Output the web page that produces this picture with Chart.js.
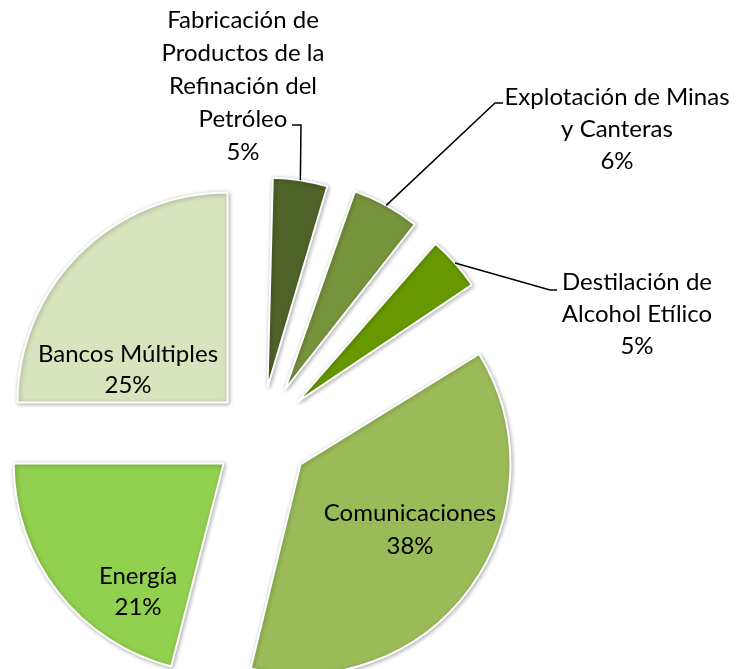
<!DOCTYPE html>
<html>
<head>
<meta charset="utf-8">
<script src="https://cdn.jsdelivr.net/npm/chart.js@4.4.1/dist/chart.umd.min.js"></script>
<style>
  html, body { margin: 0; padding: 0; background: #fff; }
  #wrap { width: 739px; height: 669px; }
</style>
</head>
<body>
<div id="wrap"><canvas id="pieChart"></canvas></div>
<script>
var categories = ['Fabricación de Productos de la Refinación del Petróleo', 'Explotación de Minas y Canteras',
    'Destilación de Alcohol Etílico', 'Comunicaciones', 'Energía', 'Bancos Múltiples'];
var shares = [5, 6, 5, 38, 21, 25];
var labelLines = [
    ['Fabricación de', 'Productos de la', 'Refinación del', 'Petróleo'],
    ['Explotación de Minas', 'y Canteras'],
    ['Destilación de', 'Alcohol Etílico'],
    ['Comunicaciones'],
    ['Energía'],
    ['Bancos Múltiples']
];
var sliceColors = ['#4F6228', '#77933C', '#669900', '#9BBB59', '#92D050', '#D7E4BD'];

var RADIUS = 210;
// how far each slice is pulled out, in px (Chart.js moves a slice by offset / 4)
var sliceExplode = [48, 52, 50, 50, 46, 46];

// where each label sits (centre x, first line y, line height) and leader ticks
var labelLayout = [
    { x: 243, y: 20, lh: 33, tick: [292, 125, 301, 125] },
    { x: 617, y: 97, lh: 32, tick: [503, 103, 495, 103] },
    { x: 637, y: 282, lh: 32, tick: [557, 290, 550, 290] },
    { x: 410, y: 513, lh: 33 },
    { x: 138, y: 576, lh: 31 },
    { x: 128, y: 354, lh: 31 }
];

// keep every slice the same radius (ArcElement grows narrow slices when offset)
var evenRadius = {
    id: 'evenRadius',
    afterDatasetUpdate: function (chart, args) {
        args.meta.data.forEach(function (arc) {
            var shift = (arc.options.offset || 0) / 4;
            var fix = 1 - Math.sin(Math.min(Math.PI, arc.circumference));
            arc.outerRadius = RADIUS - shift * fix;
        });
    }
};

var softShadow = {
    id: 'softShadow',
    beforeDatasetsDraw: function (chart) {
        var ctx = chart.ctx;
        ctx.save();
        ctx.shadowColor = 'rgba(0,0,0,0.30)';
        ctx.shadowBlur = 4;
        ctx.shadowOffsetX = 1;
        ctx.shadowOffsetY = 1;
    },
    afterDatasetsDraw: function (chart) {
        chart.ctx.restore();
    }
};

var sliceLabels = {
    id: 'sliceLabels',
    afterDraw: function (chart) {
        var ctx = chart.ctx;
        var arcs = chart.getDatasetMeta(0).data;
        ctx.save();
        ctx.font = '24px Lato, "Open Sans", sans-serif';
        ctx.fillStyle = '#000';
        ctx.strokeStyle = '#000';
        ctx.lineWidth = 1.5;
        ctx.textAlign = 'center';
        ctx.textBaseline = 'middle';
        arcs.forEach(function (arc, i) {
            var lay = labelLayout[i];
            var lines = labelLines[i].concat([shares[i] + '%']);
            lines.forEach(function (t, k) {
                ctx.fillText(t, lay.x, lay.y + k * lay.lh);
            });
            if (lay.tick) {
                var mid = (arc.startAngle + arc.endAngle) / 2;
                var r = (arc.options.offset || 0) / 4 + RADIUS;
                var ex = arc.x + Math.cos(mid) * r;
                var ey = arc.y + Math.sin(mid) * r;
                ctx.beginPath();
                ctx.moveTo(lay.tick[0], lay.tick[1]);
                ctx.lineTo(lay.tick[2], lay.tick[3]);
                ctx.lineTo(ex, ey);
                ctx.stroke();
            }
        });
        ctx.restore();
    }
};

var ctx = document.getElementById('pieChart').getContext('2d');
var pieChart = new Chart(ctx, {
    type: 'pie',
    data: {
        labels: categories,
        datasets: [{
            data: shares,
            backgroundColor: sliceColors,
            borderColor: '#ffffff',
            borderWidth: 2,
            offset: sliceExplode.map(function (d) { return d * 4; }),
            hoverOffset: 0,
            radius: RADIUS,
            clip: false
        }]
    },
    options: {
        responsive: true,
        maintainAspectRatio: false,
        animation: false,
        events: [],
        layout: { padding: { left: 0, right: 219, top: 201, bottom: 0 } },
        plugins: {
            legend: { display: false },
            tooltip: { enabled: false }
        }
    },
    plugins: [evenRadius, softShadow, sliceLabels]
});
</script>
</body>
</html>
